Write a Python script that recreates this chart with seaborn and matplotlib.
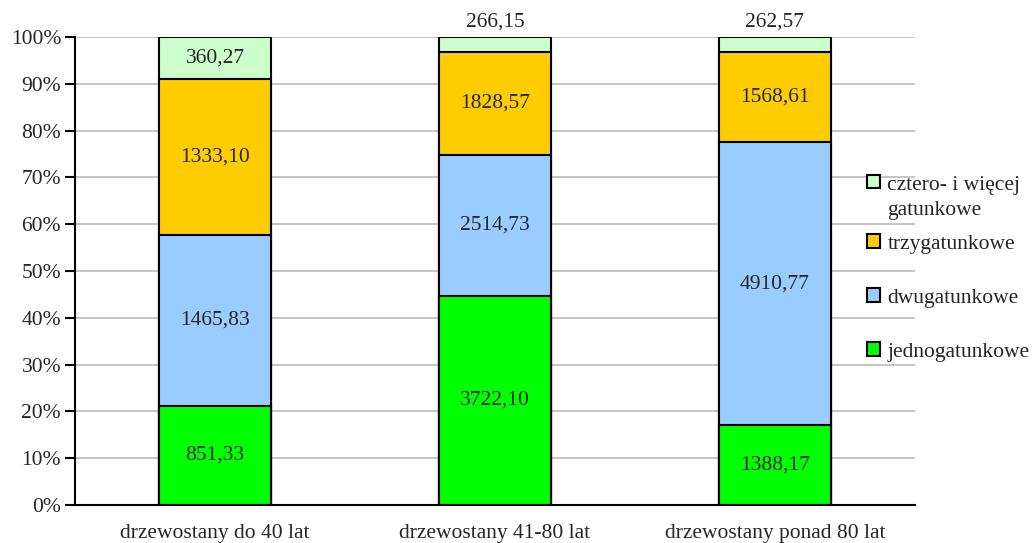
import numpy as np
import pandas as pd
import matplotlib
matplotlib.use("Agg")
import matplotlib.pyplot as plt
import matplotlib.patches as mpatches
from matplotlib.legend_handler import HandlerPatch
import seaborn as sns

# Categories and series values
categories = ["drzewostany do 40 lat", "drzewostany 41-80 lat", "drzewostany ponad 80 lat"]
series_names = ["jednogatunkowe", "dwugatunkowe", "trzygatunkowe", "cztero- i więcej\ngatunkowe"]
jedno = [851.33, 3722.10, 1388.17]
dwu = [1465.83, 2514.73, 4910.77]
trzy = [1333.10, 1828.57, 1568.61]
cztero = [360.27, 266.15, 262.57]
colors = ["#00FF00", "#99CCFF", "#FFCC00", "#CCFFCC"]

sns.set_style("white")
plt.rcParams["font.family"] = ["Liberation Serif", "DejaVu Serif"]

values = np.array([jedno, dwu, trzy, cztero])
totals = values.sum(axis=0)
pct = values / totals * 100
cum = pct.cumsum(axis=0)

fig = plt.figure(figsize=(10.32, 5.43), dpi=100)
ax = fig.add_axes([75 / 1032, 38 / 543, 840 / 1032, 468 / 543])

# grid first
ax.set_axisbelow(True)
ax.yaxis.grid(True, color="#c0c0c0", linewidth=1.3)

# overlay cumulative bars from the top series down
for i in range(len(series_names) - 1, -1, -1):
    df = pd.DataFrame({"cat": categories, "val": cum[i]})
    sns.barplot(data=df, x="cat", y="val", color=colors[i], width=0.4,
                edgecolor="black", linewidth=1.5, saturation=1, ax=ax, zorder=2)

fs = 15.5

# value labels
for j in range(len(categories)):
    for i in range(len(series_names)):
        lo = cum[i, j] - pct[i, j]
        txt = f"{values[i, j]:.2f}".replace(".", ",")
        if pct[i, j] < 5:
            ax.text(j, 101.2, txt, ha="center", va="bottom", fontsize=fs, clip_on=False)
        else:
            ax.text(j, lo + pct[i, j] / 2, txt, ha="center", va="center", fontsize=fs)

ax.set_xlim(-0.5, 2.5)
ax.set_ylim(0, 100)
ax.set_yticks(range(0, 101, 10))
ax.set_yticklabels([f"{v}%" for v in range(0, 101, 10)], fontsize=fs)
ax.set_xticks([0, 1, 2])
ax.set_xticklabels(categories, fontsize=fs)
ax.set_xticks([-0.5, 0.5, 1.5, 2.5], minor=True)
ax.tick_params(axis="x", which="major", length=0, pad=13.5)
ax.tick_params(axis="x", which="minor", length=7, width=1.5, direction="out", color="black")
ax.tick_params(axis="y", length=7, width=1.5, direction="out", color="black", left=True, pad=3)
ax.set_xlabel("")
ax.set_ylabel("")

for s in ["top", "right"]:
    ax.spines[s].set_visible(False)
for s in ["left", "bottom"]:
    ax.spines[s].set_color("black")
    ax.spines[s].set_linewidth(1.5)


# legend handle for the two-line entry sits on the first text line
def top_square(legend, orig_handle, xdescent, ydescent, width, height, fontsize):
    return mpatches.Rectangle((-xdescent, -ydescent + 0.75 * fontsize), width, height)


handles = [mpatches.Patch(facecolor=colors[i], edgecolor="black", linewidth=1.5, label=series_names[i])
           for i in range(len(series_names) - 1, -1, -1)]
leg_kw = dict(frameon=False, fontsize=fs, handlelength=0.6, handleheight=0.6, handletextpad=0.35,
              borderpad=0, borderaxespad=0)
leg1 = fig.legend(handles=handles[:1], loc="upper left", bbox_to_anchor=(867 / 1032, 1 - 176 / 543),
                  handler_map={handles[0]: HandlerPatch(patch_func=top_square)}, **leg_kw)
for t in leg1.get_texts():
    t.set_linespacing(1.45)
fig.legend(handles=handles[1:], loc="center left", bbox_to_anchor=(867 / 1032, 1 - 298 / 543),
           labelspacing=1.6, **leg_kw)

fig.savefig("out.png", dpi=100)
